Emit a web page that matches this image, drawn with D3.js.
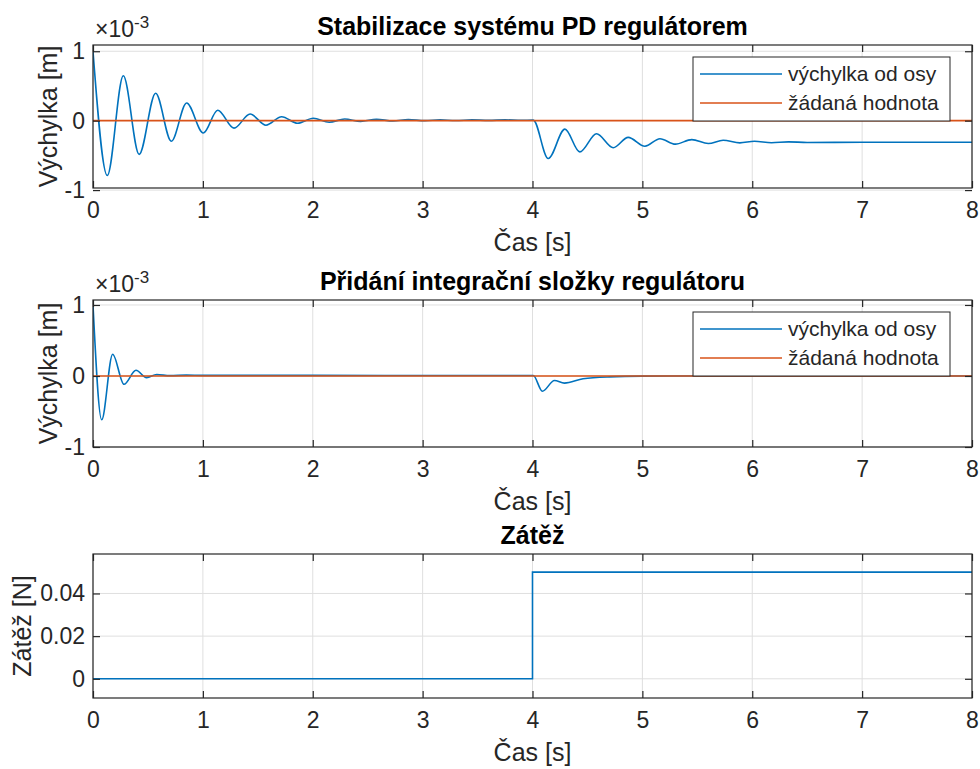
<!DOCTYPE html>
<html>
<head>
<meta charset="utf-8">
<script src="https://cdn.jsdelivr.net/npm/d3@7"></script>
<style>
  body { margin: 0; background: #fff; }
  text { font-family: "Liberation Sans", Arial, sans-serif; }
</style>
</head>
<body>
<script>
var w = 980;
var h = 769;

// time axis ticks (s)
var timeTicks = [0, 1, 2, 3, 4, 5, 6, 7, 8];

// PD regulator: deflection, values x 10^-3 m
var pdTime = [0, 0.13, 0.276, 0.42, 0.57, 0.713, 0.852, 1.004, 1.135, 1.283, 1.43, 1.574, 1.717, 1.862,
  2.005, 2.15, 2.29, 2.436, 2.58, 2.73, 2.87, 3.02, 3.16, 3.3, 3.45, 3.6, 3.75, 3.9, 4.007,
  4.143, 4.295, 4.43, 4.583, 4.735, 4.871, 5.023, 5.16, 5.3, 5.45, 5.6, 5.735, 5.887, 6.02,
  6.175, 6.33, 6.5, 7.0, 7.5, 8.0];
var pdVals = [1.0, -0.79, 0.646, -0.485, 0.396, -0.297, 0.255, -0.178, 0.151, -0.108, 0.095, -0.065, 0.057, -0.037,
  0.034, -0.023, 0.024, -0.01, 0.02, -0.005, 0.015, 0.0, 0.012, 0.002, 0.012, 0.004, 0.012, 0.006, 0.008,
  -0.546, -0.122, -0.45, -0.188, -0.39, -0.24, -0.368, -0.26, -0.338, -0.273, -0.33, -0.283, -0.32, -0.297,
  -0.318, -0.305, -0.314, -0.311, -0.312, -0.311];

// PID regulator: deflection, x 10^-3 m
var pidTime = [0, 0.079, 0.179, 0.282, 0.391, 0.488, 0.58, 0.7, 0.85, 1.0, 2.0, 3.0, 4.007,
  4.09, 4.2, 4.29, 4.46, 4.7, 5.0, 5.5, 8.0];
var pidVals = [1.0, -0.617, 0.307, -0.117, 0.08, -0.023, 0.02, 0.005, 0.012, 0.008, 0.008, 0.007, 0.006,
  -0.215, -0.064, -0.1, -0.04, -0.012, -0.002, 0.0, 0.0];

// setpoint (zadana hodnota)
var refTime = [0, 8];
var refVals = [0, 0];

// load (N)
var loadTime = [0, 4, 8];
var loadVals = [0, 0.05, 0.05];

var defTicks = [-1, 0, 1];
var loadTicks = [0, 0.02, 0.04];

var legendNames = ["výchylka od osy", "žádaná hodnota"];

var blue = "#0072BD";
var orange = "#D95319";
var axisColor = "#262626";
var gridColor = "#dfdfdf";

var left = 93;
var right = 972;

var svg = d3.select("body")
  .append("svg")
  .attr("width", w)
  .attr("height", h);

var x = d3.scaleLinear()
  .domain([0, 8])
  .range([left, right]);

function zip(t, v) {
  return t.map(function(d, i) { return [d, v[i]]; });
}

function panel(opt) {
  var y = d3.scaleLinear()
    .domain(opt.domain)
    .range([opt.bottom, opt.top]);

  var g = svg.append("g");

  // grid
  g.selectAll(".vgrid")
    .data(timeTicks)
    .enter()
    .append("line")
    .attr("x1", function(d) { return x(d); })
    .attr("x2", function(d) { return x(d); })
    .attr("y1", opt.top)
    .attr("y2", opt.bottom)
    .attr("stroke", gridColor)
    .attr("stroke-width", 1);

  g.selectAll(".hgrid")
    .data(opt.yTicks)
    .enter()
    .append("line")
    .attr("x1", left)
    .attr("x2", right)
    .attr("y1", function(d) { return y(d); })
    .attr("y2", function(d) { return y(d); })
    .attr("stroke", gridColor)
    .attr("stroke-width", 1);

  // data lines
  var clip = "clip" + opt.id;
  svg.append("clipPath")
    .attr("id", clip)
    .append("rect")
    .attr("x", left)
    .attr("y", opt.top)
    .attr("width", right - left)
    .attr("height", opt.bottom - opt.top);

  opt.series.forEach(function(s) {
    var line = d3.line()
      .x(function(d) { return x(d[0]); })
      .y(function(d) { return y(d[1]); })
      .curve(s.curve);
    g.append("path")
      .datum(zip(s.t, s.v))
      .attr("clip-path", "url(#" + clip + ")")
      .attr("fill", "none")
      .attr("stroke", s.color)
      .attr("stroke-width", 1.6)
      .attr("d", line);
  });

  // axes with inward ticks on all four sides
  var tl = 7;
  g.append("g")
    .attr("transform", "translate(0," + opt.bottom + ")")
    .call(d3.axisBottom(x).tickValues(timeTicks).tickSizeInner(-tl).tickSizeOuter(0).tickPadding(14))
    .call(styleAxis);
  g.append("g")
    .attr("transform", "translate(0," + opt.top + ")")
    .call(d3.axisTop(x).tickValues(timeTicks).tickSizeInner(-tl).tickSizeOuter(0).tickFormat(""))
    .call(styleAxis);
  g.append("g")
    .attr("transform", "translate(" + left + ",0)")
    .call(d3.axisLeft(y).tickValues(opt.yTicks).tickSizeInner(-tl).tickSizeOuter(0).tickPadding(8).tickFormat(opt.fmt))
    .call(styleAxis);
  g.append("g")
    .attr("transform", "translate(" + right + ",0)")
    .call(d3.axisRight(y).tickValues(opt.yTicks).tickSizeInner(-tl).tickSizeOuter(0).tickFormat(""))
    .call(styleAxis);

  g.append("rect")
    .attr("x", left)
    .attr("y", opt.top)
    .attr("width", right - left)
    .attr("height", opt.bottom - opt.top)
    .attr("fill", "none")
    .attr("stroke", axisColor)
    .attr("stroke-width", 1.2);

  // title and labels
  g.append("text")
    .attr("x", (left + right) / 2)
    .attr("y", opt.top - 10)
    .attr("text-anchor", "middle")
    .attr("font-size", 25)
    .attr("font-weight", "bold")
    .attr("fill", "#000")
    .text(opt.title);

  g.append("text")
    .attr("x", (left + right) / 2)
    .attr("y", opt.bottom + 63)
    .attr("text-anchor", "middle")
    .attr("font-size", 25)
    .attr("fill", axisColor)
    .text("Čas [s]");

  g.append("text")
    .attr("transform", "translate(" + opt.labelX + "," + (opt.top + opt.bottom) / 2 + ") rotate(-90)")
    .attr("text-anchor", "middle")
    .attr("font-size", 25)
    .attr("fill", axisColor)
    .text(opt.ylabel);

  if (opt.exponent) {
    var ex = g.append("text")
      .attr("x", 95)
      .attr("y", opt.top - 8)
      .attr("font-size", 23)
      .attr("fill", axisColor);
    ex.append("tspan").text("×10");
    ex.append("tspan")
      .attr("dy", -9)
      .attr("font-size", 17)
      .text("-3");
  }

  if (opt.legend) {
    var lx = 693, ly = opt.top + 12, lw = 257, lh = 64;
    var lg = g.append("g");
    lg.append("rect")
      .attr("x", lx)
      .attr("y", ly)
      .attr("width", lw)
      .attr("height", lh)
      .attr("fill", "#fff")
      .attr("stroke", axisColor)
      .attr("stroke-width", 1);
    [blue, orange].forEach(function(c, i) {
      var yy = ly + 17 + i * 29;
      lg.append("line")
        .attr("x1", lx + 7)
        .attr("x2", lx + 89)
        .attr("y1", yy)
        .attr("y2", yy)
        .attr("stroke", c)
        .attr("stroke-width", 1.6);
      lg.append("text")
        .attr("x", lx + 95)
        .attr("y", yy + 7)
        .attr("font-size", 21)
        .attr("fill", axisColor)
        .text(legendNames[i]);
    });
  }
}

function styleAxis(sel) {
  sel.select(".domain").remove();
  sel.selectAll(".tick line").attr("stroke", axisColor).attr("stroke-width", 1.2);
  sel.selectAll(".tick text")
    .attr("fill", axisColor)
    .attr("font-size", 23)
    .attr("font-family", "'Liberation Sans', Arial, sans-serif");
}

var defFmt = function(d) { return d < 0 ? "-" + Math.abs(d) : String(d); };

panel({
  id: 1,
  top: 45,
  bottom: 188,
  domain: [-0.97, 1.09],
  yTicks: defTicks,
  fmt: defFmt,
  title: "Stabilizace systému PD regulátorem",
  ylabel: "Výchylka [m]",
  labelX: 57,
  exponent: true,
  legend: true,
  series: [
    { t: pdTime, v: pdVals, color: blue, curve: d3.curveMonotoneX },
    { t: refTime, v: refVals, color: orange, curve: d3.curveLinear }
  ]
});

panel({
  id: 2,
  top: 300,
  bottom: 447,
  domain: [-1.0, 1.07],
  yTicks: defTicks,
  fmt: defFmt,
  title: "Přidání integrační složky regulátoru",
  ylabel: "Výchylka [m]",
  labelX: 57,
  exponent: true,
  legend: true,
  series: [
    { t: pidTime, v: pidVals, color: blue, curve: d3.curveMonotoneX },
    { t: refTime, v: refVals, color: orange, curve: d3.curveLinear }
  ]
});

panel({
  id: 3,
  top: 554,
  bottom: 698,
  domain: [-0.009, 0.0585],
  yTicks: loadTicks,
  fmt: function(d) { return d === 0 ? "0" : d3.format(".2f")(d); },
  title: "Zátěž",
  ylabel: "Zátěž [N]",
  labelX: 31,
  exponent: false,
  legend: false,
  series: [
    { t: loadTime, v: loadVals, color: blue, curve: d3.curveStepAfter }
  ]
});
</script>
</body>
</html>
